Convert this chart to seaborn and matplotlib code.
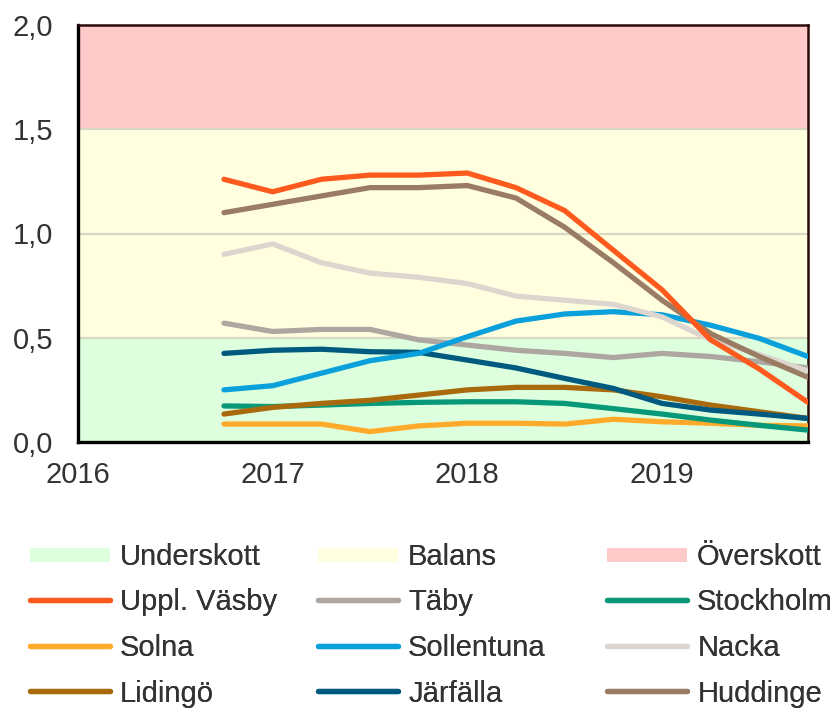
import pandas as pd
import seaborn as sns
import matplotlib.pyplot as plt
from matplotlib.lines import Line2D

# Quarterly data, 2016 Q4 - 2019 Q4 (decimal year)
quarters = [2016.75, 2017.0, 2017.25, 2017.5, 2017.75, 2018.0, 2018.25,
            2018.5, 2018.75, 2019.0, 2019.25, 2019.5, 2019.75]

uppl_vasby = [1.26, 1.20, 1.26, 1.28, 1.28, 1.29, 1.22, 1.11, 0.92, 0.73, 0.49, 0.35, 0.19]
huddinge = [1.10, 1.14, 1.18, 1.22, 1.22, 1.23, 1.17, 1.03, 0.86, 0.68, 0.52, 0.41, 0.31]
nacka = [0.90, 0.95, 0.86, 0.81, 0.79, 0.76, 0.70, 0.68, 0.66, 0.60, 0.49, 0.42, 0.34]
taby = [0.57, 0.53, 0.54, 0.54, 0.49, 0.465, 0.44, 0.425, 0.405, 0.425, 0.41, 0.385, 0.355]
sollentuna = [0.25, 0.27, 0.33, 0.39, 0.425, 0.505, 0.58, 0.614, 0.625, 0.61, 0.56, 0.497, 0.41]
jarfalla = [0.425, 0.44, 0.445, 0.433, 0.43, 0.393, 0.355, 0.305, 0.257, 0.185, 0.153, 0.134, 0.113]
lidingo = [0.134, 0.166, 0.185, 0.20, 0.225, 0.25, 0.262, 0.262, 0.25, 0.217, 0.177, 0.145, 0.113]
stockholm = [0.173, 0.17, 0.177, 0.185, 0.19, 0.193, 0.193, 0.185, 0.16, 0.134, 0.105, 0.08, 0.057]
solna = [0.086, 0.086, 0.086, 0.05, 0.077, 0.09, 0.09, 0.086, 0.109, 0.097, 0.09, 0.08, 0.077]

series = {
    "Uppl. Väsby": uppl_vasby, "Täby": taby, "Stockholm": stockholm,
    "Solna": solna, "Sollentuna": sollentuna, "Nacka": nacka,
    "Lidingö": lidingo, "Järfälla": jarfalla, "Huddinge": huddinge,
}
colors = {
    "Uppl. Väsby": "#FF5A1E", "Täby": "#ADA6A1", "Stockholm": "#07987A",
    "Solna": "#FFAA2A", "Sollentuna": "#0AA0DC", "Nacka": "#DDD6CF",
    "Lidingö": "#A86A0C", "Järfälla": "#005A80", "Huddinge": "#9A7B63",
}
# draw order (first drawn is at the bottom)
draw_order = ["Solna", "Stockholm", "Lidingö", "Järfälla", "Täby",
              "Sollentuna", "Nacka", "Huddinge", "Uppl. Väsby"]

bands = [("Underskott", 0.0, 0.5, "#DDFFDD"),
         ("Balans", 0.5, 1.5, "#FFFFE0"),
         ("Överskott", 1.5, 2.0, "#FFCACA")]

y_ticks = [0.0, 0.5, 1.0, 1.5, 2.0]
x_ticks = [2016, 2017, 2018, 2019]

rows = []
for name in draw_order:
    for q, v in zip(quarters, series[name]):
        rows.append({"quarter": q, "value": v, "kommun": name})
df = pd.DataFrame(rows)

sns.set_style("white")
plt.rcParams['font.family'] = ['Liberation Sans', 'DejaVu Sans']

fig = plt.figure(figsize=(8.36, 7.08), dpi=100)
ax = fig.add_axes([78 / 836, 1 - 442 / 708, 730 / 836, 417 / 708])

for label, lo, hi, c in bands:
    ax.axhspan(lo, hi, color=c, lw=0, zorder=0)
for yv in [0.5, 1.0, 1.5]:
    ax.axhline(yv, color="#D8D8C0", lw=1.6, zorder=1)

sns.lineplot(data=df, x="quarter", y="value", hue="kommun",
             hue_order=draw_order, palette=colors, linewidth=3.8,
             legend=False, ax=ax, zorder=3,
             solid_joinstyle="round", solid_capstyle="round")

ax.set_xlim(2016, 2019.75)
ax.set_ylim(0, 2)
ax.set_xticks(x_ticks)
ax.set_yticks(y_ticks)
ax.set_yticklabels([f"{v:.1f}".replace(".", ",") for v in y_ticks])
ax.set_xlabel("")
ax.set_ylabel("")
ax.tick_params(axis="both", length=0, labelsize=21, colors="#333333")
ax.tick_params(axis="y", pad=18)
ax.tick_params(axis="x", pad=14)

for side in ["left", "bottom"]:
    ax.spines[side].set_linewidth(2.4)
    ax.spines[side].set_color("black")
for side in ["top", "right"]:
    ax.spines[side].set_visible(True)
    ax.spines[side].set_linewidth(1.8)
    ax.spines[side].set_color("#2A0A0A")

# legend: one block per column
legend_cols = [
    ["Underskott", "Uppl. Väsby", "Solna", "Lidingö"],
    ["Balans", "Täby", "Sollentuna", "Järfälla"],
    ["Överskott", "Stockholm", "Nacka", "Huddinge"],
]
col_x = [30, 318, 607]
band_colors = {b[0]: b[3] for b in bands}
for col, x0 in zip(legend_cols, col_x):
    handles = []
    for name in col:
        if name in band_colors:
            h = Line2D([], [], color=band_colors[name], lw=10, solid_capstyle="butt")
        else:
            h = Line2D([], [], color=colors[name], lw=3.8, solid_capstyle="round")
        handles.append(h)
    leg = fig.legend(handles, col, loc="upper left",
                     bbox_to_anchor=(x0 / 836, 1 - 543 / 708), frameon=False,
                     fontsize=21, handlelength=2.75, handletextpad=0.34,
                     labelspacing=0.6, borderpad=0, borderaxespad=0,
                     labelcolor="#333333")
    fig.add_artist(leg)

fig.savefig("out.png", dpi=100)
